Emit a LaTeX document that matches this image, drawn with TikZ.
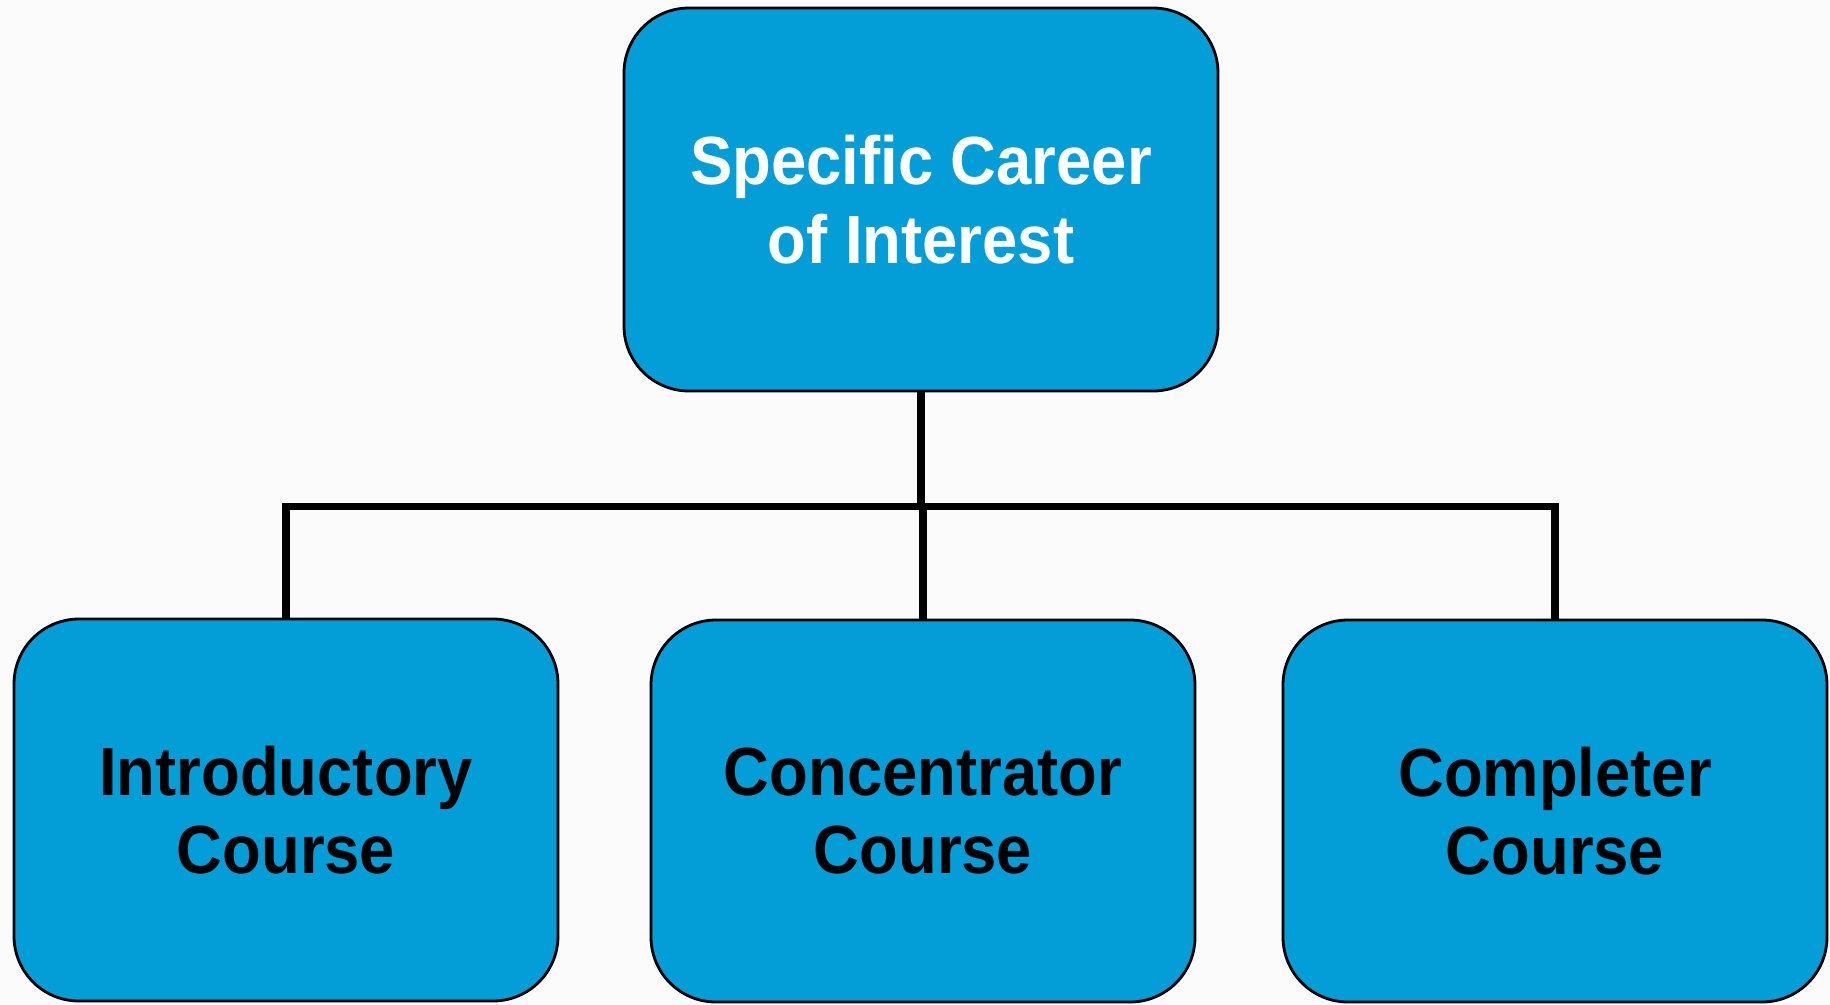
\documentclass[tikz,border=0pt]{standalone}
\usepackage{fontspec}
\usepackage{tikz}
\usetikzlibrary{positioning}

\newfontfamily\boxfont[FakeStretch=0.93]{Liberation Sans}
\definecolor{boxblue}{RGB}{3,157,216}
\definecolor{paper}{RGB}{251,251,251}

\tikzset{
    course/.style={draw=black, line width=0.8pt, fill=boxblue, rectangle, rounded corners=0.65cm,
        minimum width=5.44cm, minimum height=3.82cm, inner sep=0pt, align=center,
        font=\boxfont\bfseries\fontsize{19.4}{22.4}\selectfont},
    link/.style={draw=black, line width=2.1pt}
}

\begin{document}
\begin{tikzpicture}

    \fill[color=paper] (0, 0) rectangle (18.30, -10.04);
\useasboundingbox (0, 0) rectangle (18.30, -10.04);

    \node[course, minimum width=5.94cm, minimum height=3.83cm, text=white] (N0) at (9.21, -1.995) {Specific Career\\of Interest};

    \node[course] (N1) at (2.86, -8.10) {Introductory\\Course};
\node[course] (N2) at (9.23, -8.11) {Concentrator\\Course};
\node[course] (N3) at (15.55, -8.11) {Completer\\Course};

    \coordinate (J) at (9.22, -5.065);
\draw[link] (N0.south) -- (N0.south |- J);
\draw[link] (N1.north) |- (J) -| (N3.north);
\draw[link] (J -| N2.north) -- (N2.north);

\end{tikzpicture}
\end{document}
